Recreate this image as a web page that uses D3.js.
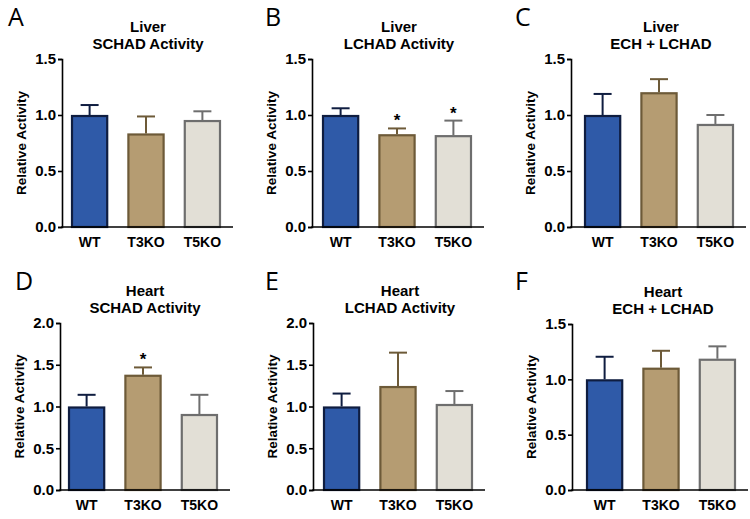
<!DOCTYPE html>
<html>
<head>
<meta charset="utf-8">
<script src="https://cdn.jsdelivr.net/npm/d3@7"></script>
<style>
  body { margin: 0; background: #fff; }
  text { font-family: "Liberation Sans", Arial, sans-serif; }
</style>
</head>
<body>
<div id="chart"></div>
<script>
// DATA
var groups = ["WT", "T3KO", "T5KO"];
var panelLetters = ["A", "B", "C", "D", "E", "F"];
var tissues = ["Liver", "Liver", "Liver", "Heart", "Heart", "Heart"];
var assays = ["SCHAD Activity", "LCHAD Activity", "ECH + LCHAD",
              "SCHAD Activity", "LCHAD Activity", "ECH + LCHAD"];
var yMax = [1.5, 1.5, 1.5, 2.0, 2.0, 1.5];
var meanValues = [
    [1.0, 0.835, 0.955],
    [1.0, 0.828, 0.82],
    [1.0, 1.203, 0.92],
    [1.0, 1.38, 0.91],
    [1.0, 1.245, 1.03],
    [1.0, 1.105, 1.186]
];
var semValues = [
    [0.089, 0.152, 0.078],
    [0.06, 0.052, 0.13],
    [0.188, 0.117, 0.08],
    [0.14, 0.088, 0.23],
    [0.155, 0.40, 0.155],
    [0.204, 0.153, 0.112]
];
var significant = [
    [false, false, false],
    [false, true, true],
    [false, false, false],
    [false, true, false],
    [false, false, false],
    [false, false, false]
];

// STYLE
var fillColors = ["#2f5aa8", "#b59c72", "#e2dfd6"];
var strokeColors = ["#0f1d40", "#6d5a38", "#6e6e6e"];

// LAYOUT (per panel)
var axisX = [62, 312, 571, 60, 313, 572];
var bandOffset = [9, 10, 13, 8, 10, 14];
var letterX = [8, 265, 515, 15, 265, 515];
var rowTop = [59, 59, 59, 323, 323, 324];
var rowBottom = [227, 227, 227, 490, 490, 490];
var letterY = [26, 26, 26, 290, 290, 290];

var svg = d3.select("#chart").append("svg")
    .attr("width", 750)
    .attr("height", 519);

function drawPanel(p) {
    var g = svg.append("g");
    var x0 = axisX[p] + bandOffset[p];

    var x = d3.scaleBand()
        .domain(groups)
        .range([x0, x0 + 150])
        .paddingInner(0.34)
        .paddingOuter(0);

    var y = d3.scaleLinear()
        .domain([0, yMax[p]])
        .range([rowBottom[p], rowTop[p]]);

    var data = groups.map(function (gname, i) {
        return {
            group: gname,
            mean: meanValues[p][i],
            sem: semValues[p][i],
            star: significant[p][i],
            i: i
        };
    });

    // error bars (drawn first so bar border sits on top)
    data.forEach(function (d) {
        var cx = x(d.group) + x.bandwidth() / 2;
        g.append("line")
            .attr("x1", cx).attr("x2", cx)
            .attr("y1", y(d.mean)).attr("y2", y(d.mean + d.sem))
            .attr("stroke", strokeColors[d.i]).attr("stroke-width", 2);
        g.append("line")
            .attr("x1", cx - 9).attr("x2", cx + 9)
            .attr("y1", y(d.mean + d.sem)).attr("y2", y(d.mean + d.sem))
            .attr("stroke", strokeColors[d.i]).attr("stroke-width", 2);
        if (d.star) {
            g.append("text")
                .attr("x", cx)
                .attr("y", y(d.mean + d.sem) - 2)
                .attr("text-anchor", "middle")
                .style("font-size", "17px")
                .style("font-weight", "bold")
                .text("*");
        }
    });

    // bars
    g.selectAll("rect.bar")
        .data(data)
        .enter().append("rect")
        .attr("class", "bar")
        .attr("x", function (d) { return x(d.group) + 1; })
        .attr("width", x.bandwidth() - 2)
        .attr("y", function (d) { return y(d.mean) + 1; })
        .attr("height", function (d) { return y(0) - y(d.mean) - 1; })
        .attr("fill", function (d) { return fillColors[d.i]; })
        .attr("stroke", function (d) { return strokeColors[d.i]; })
        .attr("stroke-width", 2.2);

    // y axis
    var yAxis = d3.axisLeft(y)
        .tickValues(d3.range(0, yMax[p] + 0.001, 0.5))
        .tickFormat(d3.format(".1f"))
        .tickSize(4)
        .tickPadding(2);
    var ya = g.append("g")
        .attr("transform", "translate(" + axisX[p] + ",0)")
        .call(yAxis);
    ya.select(".domain").attr("stroke", "#000").attr("stroke-width", 1.6);
    ya.selectAll(".tick line").attr("stroke", "#000").attr("stroke-width", 1.6);
    ya.selectAll(".tick text")
        .style("font-size", "15px")
        .style("font-weight", "bold")
        .attr("fill", "#000");

    // x axis line + labels
    var xa = g.append("g")
        .attr("transform", "translate(0," + y(0) + ")")
        .call(d3.axisBottom(x).tickSize(0).tickPadding(10));
    xa.select(".domain").remove();
    xa.selectAll(".tick text")
        .style("font-size", "14px")
        .style("font-weight", "bold")
        .attr("fill", "#000");
    g.append("line")
        .attr("x1", axisX[p] - 0.8)
        .attr("x2", x0 + 150 + 12)
        .attr("y1", y(0)).attr("y2", y(0))
        .attr("stroke", "#000").attr("stroke-width", 1.6);

    // y label
    g.append("text")
        .attr("transform", "translate(" + (axisX[p] - 36) + "," + ((rowTop[p] + rowBottom[p]) / 2) + ") rotate(-90)")
        .attr("text-anchor", "middle")
        .style("font-size", "13.5px")
        .style("font-weight", "bold")
        .text("Relative Activity");

    // title
    var tx = x0 + 75 + 2;
    g.append("text")
        .attr("x", tx).attr("y", rowTop[p] - 27)
        .attr("text-anchor", "middle")
        .style("font-size", "15px")
        .style("font-weight", "bold")
        .text(tissues[p]);
    g.append("text")
        .attr("x", tx).attr("y", rowTop[p] - 10)
        .attr("text-anchor", "middle")
        .style("font-size", "15px")
        .style("font-weight", "bold")
        .text(assays[p]);

    // panel letter
    g.append("text")
        .attr("x", letterX[p]).attr("y", letterY[p])
        .style("font-family", "'Open Sans', sans-serif")
        .style("font-size", "25px")
        .text(panelLetters[p]);
}

for (var p = 0; p < 6; p++) {
    drawPanel(p);
}
</script>
</body>
</html>
